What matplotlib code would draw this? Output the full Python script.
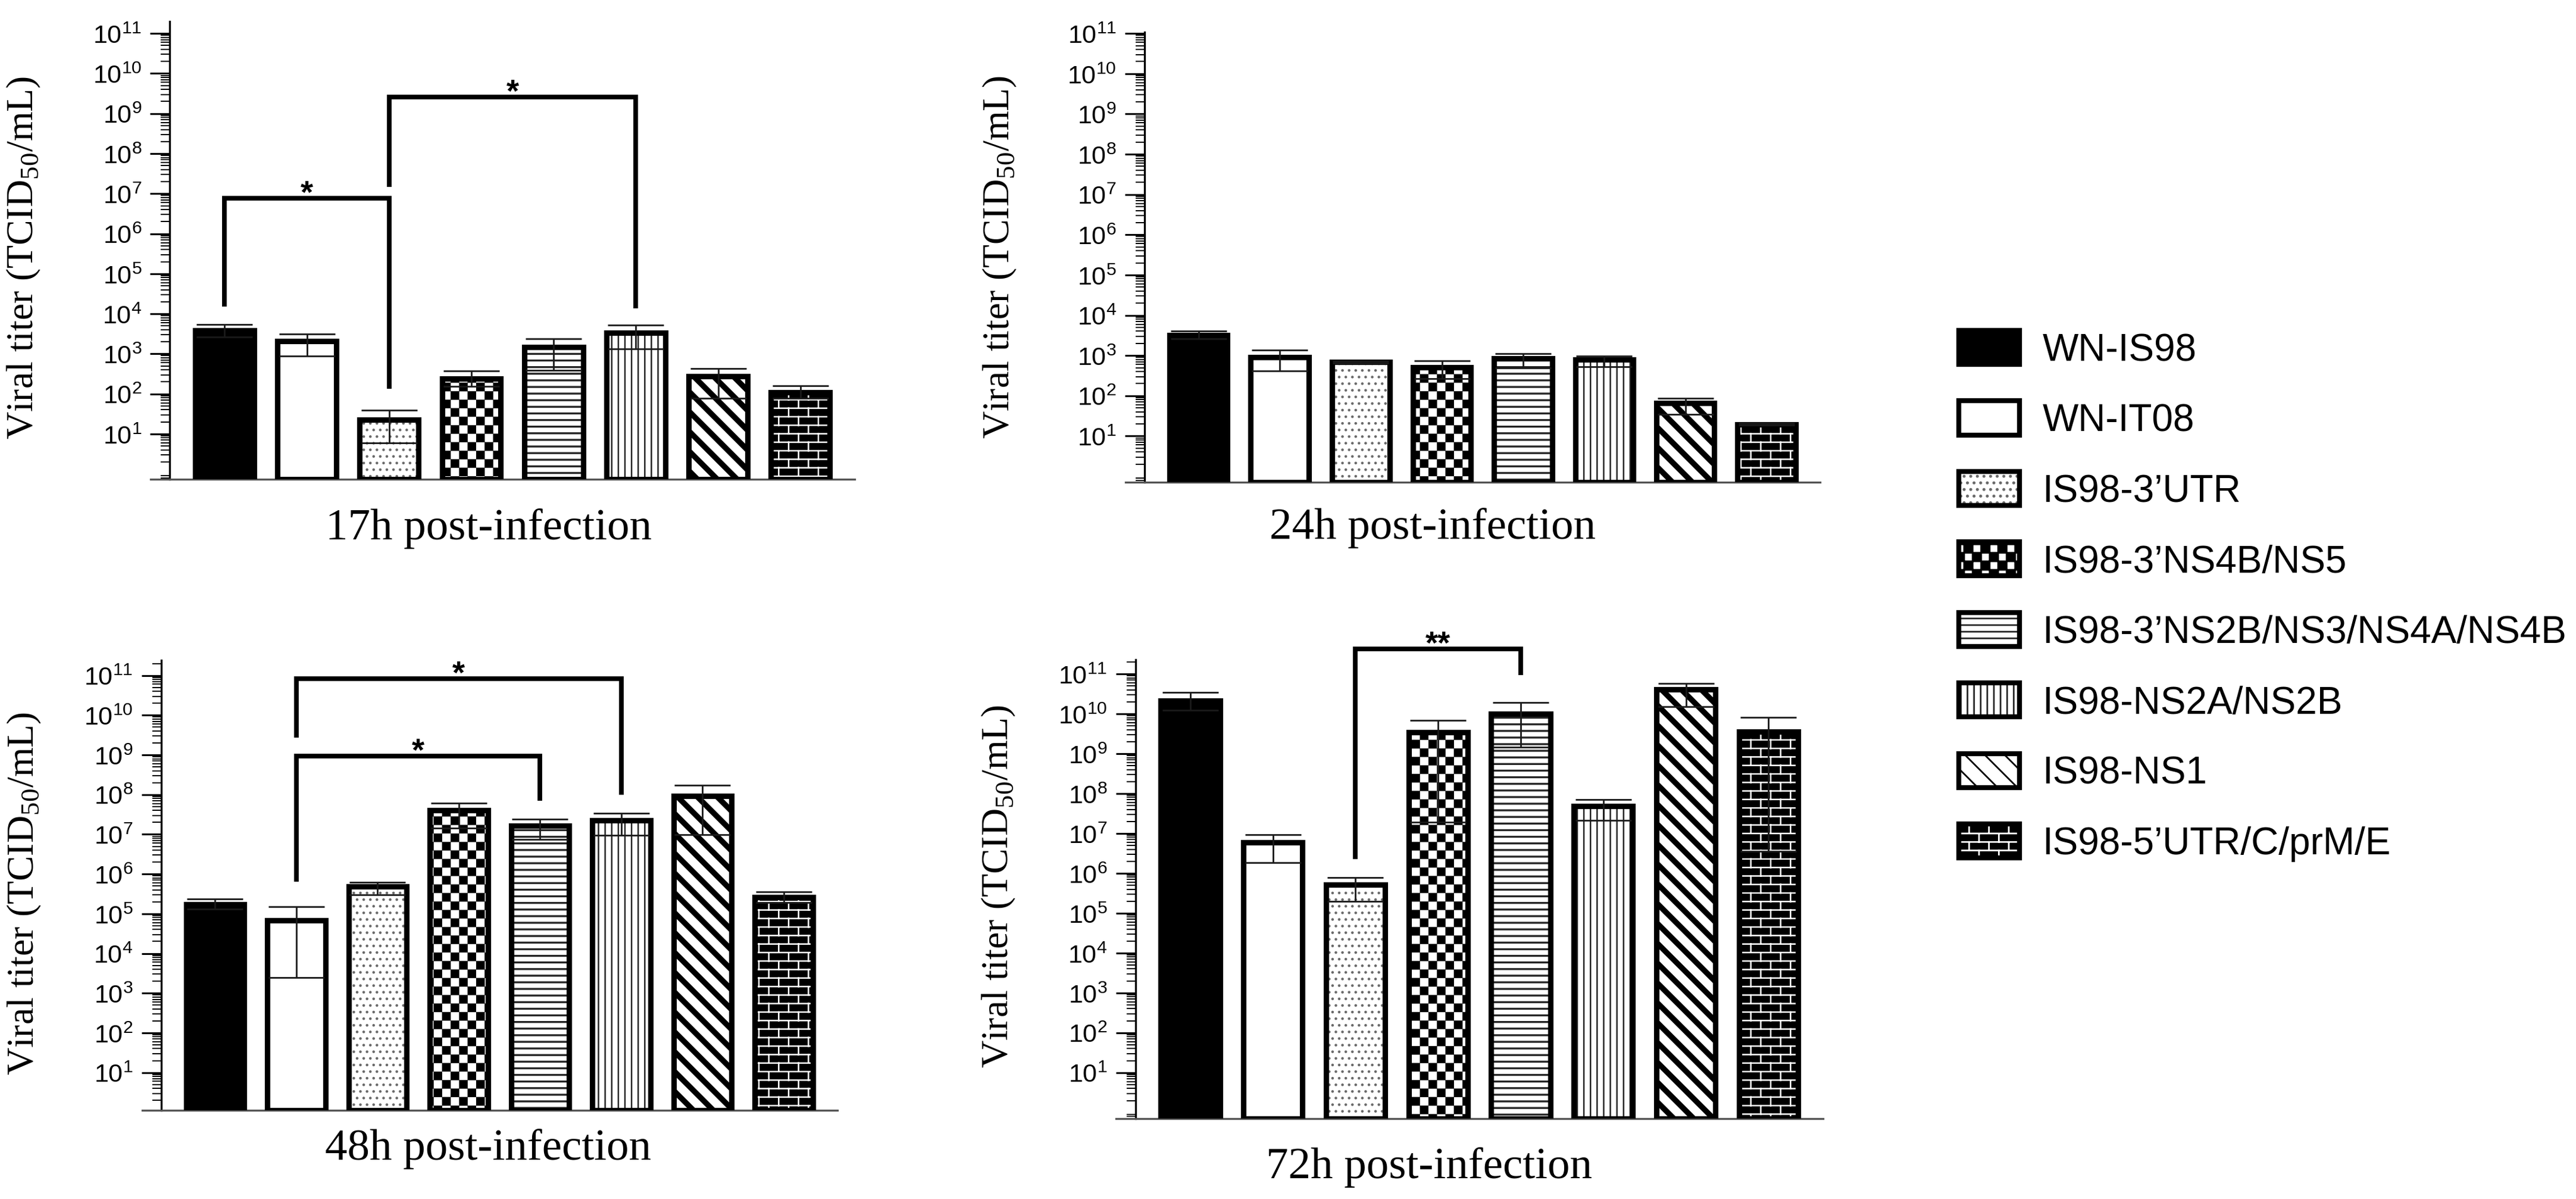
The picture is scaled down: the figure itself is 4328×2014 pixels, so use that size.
import numpy as np
import matplotlib
matplotlib.use("Agg")
import matplotlib.pyplot as plt
import matplotlib.hatch as mhatch
from matplotlib.path import Path
from matplotlib.patches import Patch
from matplotlib.ticker import FixedLocator, LogFormatterSciNotation, NullFormatter

# ------------------------------------------------------------------ data
strains = ["WN-IS98", "WN-IT08", "IS98-3\u2019UTR", "IS98-3\u2019NS4B/NS5",
           "IS98-3\u2019NS2B/NS3/NS4A/NS4B", "IS98-NS2A/NS2B", "IS98-NS1",
           "IS98-5\u2019UTR/C/prM/E"]
panel_titles = ["17h post-infection", "24h post-infection",
                "48h post-infection", "72h post-infection"]
y_label = "Viral titer (TCID$_{\\mathdefault{50}}$/mL)"

titer_17h = [3.8e3, 2.1e3, 23, 2.4e2, 1.5e3, 3.4e3, 2.75e2, 1.1e2]
err_lo_17h = [2.6e3, 8.9e2, 6.0, 1.55e2, 3.9e2, 1.35e3, 78, 78]
err_hi_17h = [5.4e3, 3.1e3, 39, 3.7e2, 2.4e3, 5.2e3, 4.3e2, 1.6e2]

titer_24h = [3.2e3, 9.1e2, 6.8e2, 5.1e2, 8.5e2, 7.8e2, 66, 19.5]
err_lo_24h = [2.6e3, 4.1e2, 6.5e2, 2.7e2, 4.9e2, 5.3e2, 35, 18.6]
err_hi_24h = [4.1e3, 1.35e3, 7.1e2, 7.5e2, 1.12e3, 9.6e2, 87, 20.4]

titer_48h = [1.74e5, 6.8e4, 4.9e5, 4.0e7, 1.62e7, 2.24e7, 9.3e7, 2.6e5]
err_lo_48h = [1.29e5, 2.5e3, 3.0e5, 1.45e7, 7.4e6, 9.5e6, 9.8e6, 1.95e5]
err_hi_48h = [2.34e5, 1.48e5, 6.3e5, 6.2e7, 2.4e7, 3.4e7, 1.74e8, 3.55e5]

titer_72h = [2.1e10, 5.9e6, 5.1e5, 3.4e9, 1.0e10, 4.9e7, 4.1e10, 3.6e9]
err_lo_72h = [1.23e10, 1.86e6, 2.0e5, 1.9e7, 1.48e9, 2.1e7, 1.5e10, 3.5e6]
err_hi_72h = [3.5e10, 9.3e6, 7.9e5, 6.9e9, 1.95e10, 7.1e7, 5.75e10, 8.1e9]

# significance brackets: (bar a, bar b, bracket level, leg end a, leg end b, mark)
sig_17h = [(0, 2, 7.8e6, 1.5e4, 1.35e2, "*"), (2, 5, 2.6e9, 1.45e7, 1.35e4, "*")]
sig_24h = []
sig_48h = [(1, 4, 9.5e8, 6.5e5, 7.1e7, "*"), (1, 5, 8.3e10, 2.75e9, 9.8e7, "*")]
sig_72h = [(2, 4, 4.3e11, 2.3e6, 9.3e10, "**")]

y_tick_exponents = list(range(1, 12))

titers = [titer_17h, titer_24h, titer_48h, titer_72h]
err_lo = [err_lo_17h, err_lo_24h, err_lo_48h, err_lo_72h]
err_hi = [err_hi_17h, err_hi_24h, err_hi_48h, err_hi_72h]
sigs = [sig_17h, sig_24h, sig_48h, sig_72h]

# ------------------------------------------------------------------ styles
face_colors = ["black", "white", "white", "white", "white", "white", "white", "black"]
hatch_colors = ["black", "black", "#6a6a6a", "black", "#262626", "#262626", "black", "white"]
hatches = [None, None, "...", "O", "---", "|||", "\\\\", "*"]
hatch_lws = [1.0, 1.0, 0.8, 0.1, 1.2, 0.9, 3.4, 0.9]


# custom hatch patterns: checkerboard ('O') and brick wall ('*')
class _Checker(mhatch.HatchPatternBase):
    def __init__(self, hatch, density):
        self.n = 14 * hatch.count("O")
        self.num_vertices = (self.n * self.n // 2) * 5

    def set_vertices_and_codes(self, vertices, codes):
        s = 1.0 / self.n
        k = 0
        for i in range(self.n):
            for j in range(self.n):
                if (i + j) % 2 == 0:
                    x0, y0 = i * s, j * s
                    vertices[k:k + 5] = [(x0, y0), (x0 + s, y0), (x0 + s, y0 + s),
                                         (x0, y0 + s), (x0, y0)]
                    codes[k] = Path.MOVETO
                    codes[k + 1:k + 4] = Path.LINETO
                    codes[k + 4] = Path.CLOSEPOLY
                    k += 5


class _Brick(mhatch.HatchPatternBase):
    def __init__(self, hatch, density):
        c = hatch.count("*")
        self.rows = 14 * c
        self.cols = 6 * c
        self.num_vertices = (self.rows + 1) * 2 + self.rows * self.cols * 2 if c else 0

    def set_vertices_and_codes(self, vertices, codes):
        R, C = self.rows, self.cols
        k = 0
        for r in range(R + 1):
            y = r / R
            vertices[k] = (0, y)
            vertices[k + 1] = (1, y)
            codes[k] = Path.MOVETO
            codes[k + 1] = Path.LINETO
            k += 2
        for r in range(R):
            y = r / R
            for c in range(C):
                x = (c + 0.25 + 0.5 * (r % 2)) / C
                vertices[k] = (x, y)
                vertices[k + 1] = (x, y + 1.0 / R)
                codes[k] = Path.MOVETO
                codes[k + 1] = Path.LINETO
                k += 2


for _i, _t in enumerate(mhatch._hatch_types):
    if _t is mhatch.LargeCircles:
        mhatch._hatch_types[_i] = _Checker
    elif _t is mhatch.Stars:
        mhatch._hatch_types[_i] = _Brick


def set_hlw(patch, lw):
    if hasattr(patch, "set_hatch_linewidth"):
        patch.set_hatch_linewidth(lw)


# ------------------------------------------------------------------ layout
W, H = 4328, 2015
DPI = 200
panel_boxes = [(253, 1436, 37, 806), (1891, 3058, 54.5, 810.5),
               (238.5, 1407, 1110, 1866), (1875, 3063, 1109, 1880)]
panel_ylims = [(-0.13, 11.30), (-0.14, 11.04), (0.05, 11.385), (-0.154, 11.36)]
title_pos = [(821, 888), (2407, 887), (820, 1930), (2401, 1961)]
ylabel_pos = [(40, 433), (1680, 432), (41, 1501), (1678, 1489)]
XLIM = (-0.9, 7.66)
SPINE_X = -0.665
BAR_W = 0.715

plt.rcParams["font.family"] = ["Liberation Sans", "DejaVu Sans"]
plt.rcParams["hatch.linewidth"] = 1.0

fig = plt.figure(figsize=(W / DPI, H / DPI), dpi=DPI)
fig.patch.set_facecolor("white")

x = np.arange(len(strains))
for p in range(4):
    l, r, t, b = panel_boxes[p]
    ax = fig.add_axes([l / W, 1 - b / H, (r - l) / W, (b - t) / H])
    ax.set_facecolor("none")
    ax.set_yscale("log")
    lo, hi = 10 ** panel_ylims[p][0], 10 ** panel_ylims[p][1]
    ax.set_ylim(lo, hi)
    ax.set_xlim(*XLIM)
    vals = np.array(titers[p], dtype=float)
    elo = np.array(err_lo[p], dtype=float)
    ehi = np.array(err_hi[p], dtype=float)

    for i in range(len(strains)):
        with plt.rc_context({"hatch.linewidth": hatch_lws[i]}):
            bars = ax.bar(x[i], vals[i] - lo, bottom=lo, width=BAR_W,
                          color=face_colors[i], edgecolor=hatch_colors[i],
                          linewidth=0, hatch=hatches[i], zorder=2)
        for bp in bars:
            set_hlw(bp, hatch_lws[i])
    ax.bar(x, vals - lo, bottom=lo, width=BAR_W, fill=False,
           edgecolor="black", linewidth=3.3, zorder=3)
    ax.errorbar(x, vals, yerr=[vals - elo, ehi - vals], fmt="none",
                ecolor="#1a1a1a", elinewidth=1.0, capsize=17, capthick=1.0,
                zorder=4)

    for (a, bb, top, ea, eb, mark) in sigs[p]:
        ax.plot([x[a], x[a], x[bb], x[bb]], [ea, top, top, eb], color="black",
                lw=2.8, solid_joinstyle="miter", solid_capstyle="butt",
                clip_on=False, zorder=5)
        ax.annotate(mark, xy=((x[a] + x[bb]) / 2, top), xytext=(0, -2.5),
                    textcoords="offset points", ha="center", va="baseline",
                    fontsize=19.5, fontweight="bold", annotation_clip=False)

    for side in ("top", "right"):
        ax.spines[side].set_visible(False)
    ax.spines["left"].set_position(("data", SPINE_X))
    ax.spines["left"].set_linewidth(1.2)
    ax.spines["bottom"].set_linewidth(1.2)
    ax.spines["bottom"].set_color("#555555")
    ax.set_xticks([])
    ax.yaxis.set_major_locator(FixedLocator([10.0 ** e for e in y_tick_exponents]))
    ax.yaxis.set_major_formatter(LogFormatterSciNotation())
    ax.yaxis.set_minor_locator(FixedLocator(
        [m * 10.0 ** e for e in range(-1, 12) for m in range(2, 10)]))
    ax.yaxis.set_minor_formatter(NullFormatter())
    ax.tick_params(axis="y", which="major", length=12, width=1.1, pad=5, labelsize=15.5)
    ax.tick_params(axis="y", which="minor", length=5.5, width=0.7)

    tx, ty = title_pos[p]
    fig.text(tx / W, 1 - ty / H, panel_titles[p], ha="center", va="center",
             fontsize=27, family="Liberation Serif")
    lx, ly = ylabel_pos[p]
    fig.text(lx / W, 1 - ly / H, y_label, rotation=90, ha="center", va="center",
             fontsize=23, family="Liberation Serif")

# legend
handles = []
for i in range(len(strains)):
    with plt.rc_context({"hatch.linewidth": hatch_lws[i]}):
        pat = Patch(facecolor=face_colors[i], edgecolor=hatch_colors[i],
                    linewidth=0, hatch=hatches[i])
    set_hlw(pat, hatch_lws[i])
    out = Patch(fill=False, edgecolor="black", linewidth=3.0)
    handles.append((pat, out))
fig.legend(handles, strains, loc="upper left", bbox_to_anchor=(3291 / W, 1 - 556 / H),
           frameon=False, prop={"family": "Liberation Sans", "size": 23},
           handlelength=1.6, handleheight=1.0, handletextpad=0.6,
           labelspacing=0.86, borderpad=0, borderaxespad=0)

fig.savefig("out.png", dpi=DPI, facecolor="white")
